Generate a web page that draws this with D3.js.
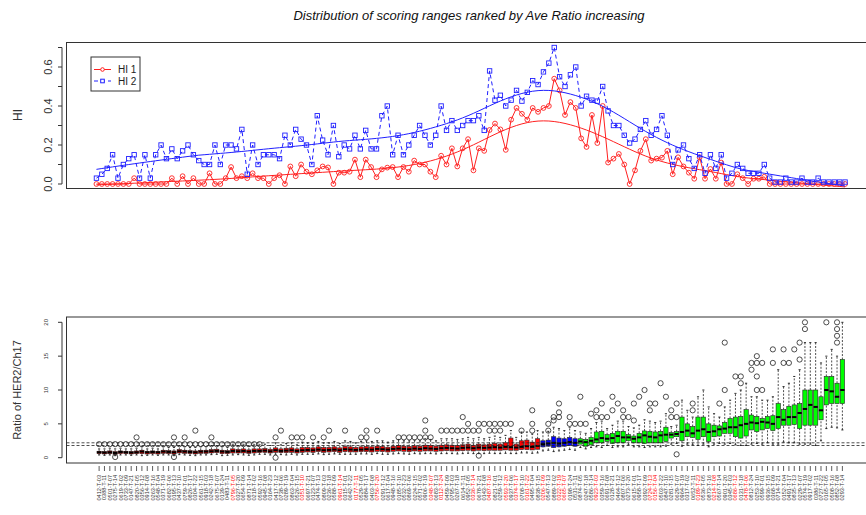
<!DOCTYPE html>
<html>
<head>
<meta charset="utf-8">
<script src="https://cdn.jsdelivr.net/npm/d3@7"></script>
<style>
  body { margin: 0; background: #fff; }
  svg { font-family: "Liberation Sans", Arial, sans-serif; }
</style>
</head>
<body>
<svg id="chart" width="866" height="515"></svg>
<script>
// ---- top panel: HI per case, ranked by average ratio ----
var hi1 = [0,0,0,0,0,0,0,0.03,0,0,
  0,0,0,0,0.03,0,0.04,0,0.03,0,
  0,0.055,0,0,0.03,0.087,0.03,0.04,0.03,0.055,
  0.03,0.03,0,0.03,0.045,0,0.09,0.04,0.10,0.063,
  0.05,0.07,0.09,0.085,0,0.058,0.058,0.063,0.125,0.035,
  0.125,0.087,0.035,0.075,0.084,0.087,0.035,0.087,0.063,0.12,
  0.10,0.10,0.063,0.035,0.145,0.10,0.183,0.09,0.183,0.23,
  0.07,0.183,0.17,0.277,0.31,0.28,0.175,0.33,0.39,0.36,
  0.33,0.39,0.37,0.39,0.40,0.54,0.48,0.354,0.42,0.39,
  0.234,0.19,0.354,0.21,0.40,0.11,0.13,0.154,0.10,0,
  0.07,0.17,0.23,0.12,0.13,0.135,0.17,0.05,0.137,0.09,
  0.058,0.027,0.137,0.027,0.077,0.027,0.11,0,0,0.05,
  0.03,0,0.027,0.027,0.037,0,0,0,0,0,
  0,0,0,0,0,0,0,0,0,0];

var hi2 = [0.03,0.05,0.08,0.15,0.03,0.10,0.13,0.15,0.03,0.15,
  0.03,0.15,0.20,0.13,0.18,0.13,0.17,0.20,0.15,0.12,
  0.10,0.10,0.20,0.10,0.20,0.20,0.18,0.28,0.05,0.20,
  0.10,0.15,0.15,0.15,0.13,0.25,0.20,0.28,0.23,0.20,
  0.10,0.35,0.225,0.15,0.30,0.14,0.20,0.18,0.25,0.18,
  0.275,0.18,0.18,0.35,0.40,0.15,0.25,0.15,0.20,0.25,
  0.30,0.25,0.20,0.25,0.40,0.275,0.325,0.275,0.30,0.325,
  0.325,0.35,0.275,0.58,0.43,0.455,0.40,0.43,0.48,0.425,
  0.47,0.53,0.51,0.575,0.62,0.70,0.55,0.50,0.56,0.60,
  0.40,0.45,0.43,0.425,0.50,0.375,0.30,0.30,0.25,0.21,
  0.23,0.28,0.325,0.25,0.28,0.35,0.25,0.10,0.175,0.20,
  0.13,0.08,0.15,0.055,0.15,0.08,0.15,0.03,0.055,0.10,
  0.08,0.055,0.055,0.055,0.10,0.03,0.01,0.01,0.03,0.01,
  0.01,0.03,0.01,0.01,0.03,0.01,0.01,0.01,0.01,0.01];

var hiTicks = [0, 0.1, 0.2, 0.3, 0.4, 0.5, 0.6, 0.7];
var hiLabels = [0, 0.2, 0.4, 0.6];

// ---- bottom panel: HER2/Ch17 ratio boxplots ----
var caseIds = ("0412-T-03 0388-T-11 0501-T-07 0275-T-14 0619-T-02 0733-T-09 0147-T-21 0820-T-05 0356-T-12 0914-T-08 " +
  "0263-T-16 0548-T-04 0371-T-19 0682-T-06 0195-T-13 0437-T-10 0759-T-01 0826-T-17 0304-T-22 0561-T-15 " +
  "0918-T-03 0242-T-18 0675-T-07 0139-T-24 0483-T-11 0796-T-05 0327-T-20 0654-T-09 0871-T-14 0218-T-02 " +
  "0592-T-16 0945-T-08 0164-T-23 0417-T-12 0738-T-06 0289-T-19 0863-T-04 0526-T-15 0351-T-10 0697-T-21 " +
  "0123-T-07 0474-T-13 0809-T-03 0236-T-18 0588-T-09 0961-T-14 0315-T-01 0642-T-22 0177-T-11 0529-T-05 " +
  "0884-T-17 0403-T-08 0756-T-20 0291-T-12 0617-T-04 0948-T-16 0185-T-10 0532-T-23 0869-T-06 0224-T-15 " +
  "0571-T-02 0906-T-19 0348-T-07 0683-T-13 0112-T-24 0459-T-09 0795-T-03 0267-T-18 0614-T-11 0952-T-05 " +
  "0336-T-14 0678-T-21 0143-T-08 0487-T-16 0821-T-01 0259-T-12 0593-T-20 0937-T-06 0374-T-17 0708-T-10 " +
  "0161-T-22 0495-T-04 0838-T-15 0206-T-09 0547-T-13 0889-T-02 0322-T-19 0665-T-07 0198-T-24 0531-T-11 " +
  "0874-T-05 0247-T-18 0586-T-14 0923-T-03 0359-T-16 0691-T-08 0128-T-21 0464-T-12 0807-T-06 0273-T-20 " +
  "0615-T-01 0958-T-17 0392-T-09 0724-T-13 0156-T-04 0503-T-22 0847-T-10 0281-T-15 0629-T-07 0964-T-19 " +
  "0317-T-02 0652-T-11 0189-T-23 0536-T-05 0873-T-16 0214-T-08 0567-T-14 0901-T-20 0345-T-03 0686-T-12 " +
  "0131-T-18 0478-T-06 0812-T-24 0253-T-10 0599-T-01 0936-T-15 0368-T-09 0714-T-21 0152-T-04 0491-T-17 " +
  "0835-T-13 0229-T-07 0574-T-19 0917-T-02 0386-T-11 0727-T-22 0165-T-05 0508-T-16 0852-T-08 0293-T-14").split(" ");

// cases whose axis label is printed in red
var redLabels = [25, 38, 45, 48, 52, 62, 64, 70, 73, 76, 78, 80, 83, 86, 87, 93, 103, 104, 112, 115, 119, 121];

// consecutive runs of cases per score group: red, blue, green
var groupSizes = [83, 7, 50];
var groupColors = ["#ff0000", "#0000ff", "#00ff00"];

var medians = [0.8,0.75,0.8,0.7,0.85,0.8,0.75,0.8,0.9,0.8,
  0.85,0.8,0.9,0.85,0.8,0.95,0.9,0.85,0.8,0.9,
  0.9,0.95,1.0,0.9,0.85,1.0,0.95,1.0,0.9,1.0,
  1.0,1.05,0.95,1.1,1.0,1.05,1.1,1.0,1.1,1.15,
  1.1,1.2,1.1,1.15,1.2,1.1,1.25,1.2,1.15,1.2,
  1.25,1.2,1.3,1.25,1.2,1.3,1.35,1.3,1.25,1.35,
  1.3,1.4,1.35,1.3,1.4,1.45,1.4,1.35,1.45,1.5,
  1.4,1.5,1.45,1.5,1.55,1.5,1.6,1.55,1.5,1.6,
  1.7,1.6,1.75,
  2.0,2.1,2.2,2.1,2.2,2.3,2.2,
  2.4,2.3,2.5,2.7,2.9,2.8,2.9,3.2,3.0,3.0,
  2.8,3.0,3.3,3.1,3.0,3.3,3.4,3.4,3.5,3.8,
  4.0,3.6,4.0,4.2,3.8,3.9,4.2,4.3,4.5,4.5,
  4.8,5.0,5.2,5.1,5.3,5.2,5.0,6.0,5.6,6.0,
  6.0,6.6,7.2,7.8,7.5,7.0,10.0,9.8,9.0,10.0];

var q1s = [0.6,0.55,0.6,0.5,0.6,0.6,0.55,0.6,0.6,0.55,
  0.6,0.55,0.65,0.6,0.55,0.7,0.65,0.6,0.55,0.65,
  0.65,0.7,0.75,0.6,0.6,0.7,0.7,0.7,0.65,0.7,
  0.75,0.8,0.7,0.8,0.75,0.75,0.8,0.7,0.8,0.85,
  0.8,0.9,0.8,0.85,0.9,0.8,0.9,0.85,0.85,0.9,
  0.9,0.85,0.95,0.9,0.85,0.95,1.0,0.95,0.9,1.0,
  0.95,1.0,1.0,0.95,1.0,1.05,1.0,1.0,1.05,1.1,
  1.0,1.1,1.05,1.1,1.1,1.1,1.15,1.1,1.1,1.2,
  1.2,1.15,1.25,
  1.6,1.7,1.5,1.6,1.7,1.8,1.7,
  2.0,1.7,1.9,2.2,2.2,2.4,2.1,2.2,2.2,2.5,
  2.2,2.2,2.1,2.2,2.2,2.2,2.4,2.9,3.1,2.5,
  3.1,3.0,2.7,3.1,2.4,3.1,3.2,3.6,3.6,3.1,
  2.9,3.2,4.1,3.85,4.1,4.3,4.0,4.3,4.8,4.8,
  4.9,4.3,4.8,4.8,4.8,5.6,7.8,8.0,8.0,8.0];

var q3s = [0.95,0.9,1.0,0.9,1.0,0.95,0.9,1.0,1.1,0.95,
  1.0,0.95,1.1,1.05,1.0,1.2,1.1,1.05,1.0,1.1,
  1.1,1.2,1.25,1.1,1.05,1.3,1.2,1.3,1.15,1.3,
  1.3,1.35,1.25,1.45,1.3,1.4,1.45,1.3,1.5,1.5,
  1.45,1.6,1.5,1.5,1.6,1.45,1.65,1.6,1.5,1.6,
  1.65,1.6,1.7,1.65,1.55,1.7,1.8,1.7,1.65,1.75,
  1.7,1.85,1.8,1.7,1.85,1.9,1.85,1.8,1.9,2.0,
  1.85,2.0,1.9,2.0,2.1,2.0,2.2,2.9,2.0,2.5,
  2.6,2.3,2.8,
  2.5,2.6,3.1,2.9,2.8,3.0,2.8,
  2.8,2.7,3.0,3.8,3.9,3.4,3.6,3.9,3.9,3.4,
  3.2,3.6,3.95,3.9,3.8,3.9,4.5,3.7,3.85,6.0,
  5.0,4.6,6.0,6.0,5.0,4.8,4.7,5.2,5.8,6.0,
  6.1,7.1,6.3,6.1,5.8,6.1,6.2,8.0,7.1,7.6,
  7.8,8.0,10.0,10.0,10.0,9.0,12.0,12.0,11.0,14.5];

var whiskLo = [0.4,0.35,0.4,0.3,0.4,0.4,0.35,0.4,0.3,0.35,
  0.4,0.35,0.4,0.4,0.3,0.45,0.4,0.35,0.3,0.4,
  0.4,0.45,0.5,0.3,0.35,0.4,0.45,0.4,0.35,0.4,
  0.5,0.5,0.4,0.5,0.45,0.4,0.5,0.4,0.5,0.5,
  0.5,0.55,0.45,0.5,0.55,0.5,0.5,0.5,0.5,0.55,
  0.55,0.5,0.6,0.5,0.5,0.55,0.6,0.55,0.5,0.6,
  0.55,0.6,0.6,0.55,0.6,0.6,0.6,0.55,0.6,0.65,
  0.6,0.6,0.6,0.65,0.6,0.6,0.65,0.6,0.6,0.7,
  0.7,0.65,0.7,
  1.0,1.1,0.9,1.0,1.1,1.2,1.1,
  1.5,1.3,1.5,1.6,1.5,1.8,1.5,1.6,1.6,1.9,
  1.6,1.6,1.5,1.6,1.6,1.6,1.7,2.0,2.1,1.7,
  2.0,1.9,1.8,2.0,1.6,2.0,2.1,2.0,2.1,1.9,
  1.8,1.8,2.0,2.1,2.0,2.2,2.0,2.0,2.3,2.2,
  2.2,2.0,2.0,2.0,1.8,2.5,4.3,4.5,4.4,4.1];

var whiskHi = [1.3,1.3,1.4,1.3,1.4,1.3,1.3,1.4,1.6,1.3,
  1.4,1.3,1.6,1.5,1.5,1.8,1.6,1.5,1.5,1.6,
  1.6,1.8,1.8,1.6,1.5,1.9,1.8,1.9,1.7,1.9,
  1.9,2.0,1.8,2.2,1.9,2.1,2.2,1.9,2.3,2.2,
  2.1,2.4,2.2,2.2,2.4,2.1,2.5,2.4,2.2,2.4,
  2.5,2.4,2.5,2.5,2.3,2.5,2.7,2.5,2.5,2.6,
  2.5,2.8,2.7,2.5,2.8,2.8,2.8,2.7,2.8,3.0,
  2.8,3.0,2.8,3.0,3.2,3.0,3.3,4.0,3.0,3.8,
  3.8,3.5,4.0,
  3.8,3.9,4.5,4.3,4.0,4.5,4.0,
  3.8,3.6,4.3,5.2,5.4,4.3,4.8,5.4,5.4,4.6,
  4.4,4.8,5.6,5.4,5.2,5.4,6.5,4.6,4.8,8.5,
  7.0,6.0,9.0,10.0,7.5,6.5,6.0,7.5,8.5,9.5,
  10.0,11.0,9.0,9.0,8.5,8.5,9.0,13.0,10.5,11.0,
  12.0,13.0,17.0,17.0,17.0,14.0,15.0,16.0,15.0,20.0];

// [case index, value]
var outliers = [
  [0,2],[1,2],[2,2],[3,2],[4,2],[5,2],[6,2],[7,2],[8,2],[9,2],[10,2],[11,2],[12,2],[13,2],[14,2],
  [15,2],[16,2],[17,2],[18,2],[19,2],[20,2],[21,2],[22,2],[23,2],[24,2],[25,2],[26,2],[27,2],[28,2],[29,2],[30,2],
  [7,3],[14,3],[16,3],[18,4],[21,3],[33,3],[34,4],[3,0.1],[14,0.1],[33,0],
  [36,3],[37,3],[38,3],[40,3],[42,3],[43,4],[46,4],[49,3],[50,3],[50,4],[52,4],
  [56,3],[57,3],[58,3],[59,3],[60,3],[61,3],[61,4],[61,5.5],[62,3],
  [64,4],[65,4],[66,4],[67,4],[68,4],[68,6],[69,4],[69,5],[70,4],[71,5],[71,4],[71,0.3],
  [72,5],[73,5],[73,4],[74,5],[74,4],[75,5],[75,4],[76,5],[77,5],[79,4],[81,7],[81,5],[81,4],
  [84,5],[84,4],[85,6],[85,5.5],[86,8],[86,6.7],[86,6],[88,6],[88,5],[89,5],
  [90,5],[90,9],[91,5],[92,6.5],[93,7],[93,6],[94,8],[94,6],[95,6],[96,9],[96,7],[97,8],[98,7],[98,6],
  [99,6],[100,8],[100,5.5],[101,9],[102,10],[103,8],[103,7],[104,8],[105,11],[106,9],[107,7],[107,6],
  [108,8],[108,6],[108,0.5],[111,8],[111,7],[116,8],[117,17],[117,10],[119,12],[120,12],[120,11],
  [122,14],[122,13],[123,15],[123,14],[123,12],[123,10],[124,14],[124,10],[126,16],[126,14],
  [128,16],[128,14],[129,14],[130,16],[131,17],[131,14.5],[132,20],[132,19],[136,20],
  [138,20],[138,19],[138,18],[138,17]];

var ratioTicks = [0, 5, 10, 15, 20];
var cutoffs = [1.8, 2.2];

// lowess smoother (local linear, tricube weights, optional robustness passes)
function lowess(x, y, f, iter) {
  var n = x.length, ns = Math.max(2, Math.min(n, Math.floor(f * n + 1e-7)));
  var rw = x.map(function() { return 1; }), fit = x.map(function() { return 0; });
  for (var it = 0; it <= iter; it++) {
    for (var i = 0; i < n; i++) {
      var d = x.map(function(v) { return Math.abs(v - x[i]); }).sort(function(a, b) { return a - b; });
      var h = Math.max(d[ns - 1], 1e-9);
      var sw = 0, sx = 0, sy = 0, sxx = 0, sxy = 0;
      for (var j = 0; j < n; j++) {
        var r = Math.abs(x[j] - x[i]), w = 0;
        if (r <= 0.999 * h) w = r <= 0.001 * h ? 1 : Math.pow(1 - Math.pow(r / h, 3), 3);
        w *= rw[j];
        sw += w; sx += w * x[j]; sy += w * y[j]; sxx += w * x[j] * x[j]; sxy += w * x[j] * y[j];
      }
      var mx = sx / sw, my = sy / sw, vx = sxx / sw - mx * mx;
      fit[i] = vx > 1e-12 ? my + (sxy / sw - mx * my) / vx * (x[i] - mx) : my;
    }
    if (it === iter) break;
    var res = y.map(function(v, k) { return v - fit[k]; });
    var cmad = 6 * d3.median(res.map(Math.abs));
    if (cmad < 1e-7) break;
    rw = res.map(function(v) {
      var a = Math.abs(v);
      return a <= 0.001 * cmad ? 1 : a > 0.999 * cmad ? 0 : Math.pow(1 - (a / cmad) * (a / cmad), 2);
    });
  }
  return fit;
}

var svg = d3.select("#chart");
var ink = "#333";

svg.append("text")
  .attr("x", 469).attr("y", 20)
  .attr("text-anchor", "middle")
  .style("font-size", "13px").style("font-style", "italic")
  .attr("fill", "#111")
  .text("Distribution of scoring ranges ranked by Ave Ratio increasing");

// ================= top panel =================
var topBox = {left: 66.5, right: 875, top: 42.5, bottom: 188.5};
var n = hi1.length;
var idx = d3.range(1, n + 1);
var padTop = 0.04 * (n - 1);
var xTop = d3.scaleLinear().domain([1 - padTop, n + padTop]).range([topBox.left, topBox.right]);
var yTop = d3.scaleLinear().domain([0, 0.7]).range([184, 47.5]);

svg.append("rect")
  .attr("x", topBox.left).attr("y", topBox.top)
  .attr("width", topBox.right - topBox.left).attr("height", topBox.bottom - topBox.top)
  .attr("fill", "none").attr("stroke", ink).attr("stroke-width", 1);

var gyTop = svg.append("g").attr("transform", "translate(62,0)");
gyTop.append("line")
  .attr("y1", yTop(0)).attr("y2", yTop(0.7))
  .attr("stroke", ink);
gyTop.selectAll("line.tick").data(hiTicks).enter().append("line")
  .attr("class", "tick")
  .attr("x1", 0).attr("x2", -4)
  .attr("y1", function(d) { return yTop(d); }).attr("y2", function(d) { return yTop(d); })
  .attr("stroke", ink);
gyTop.selectAll("text").data(hiLabels).enter().append("text")
  .attr("transform", function(d) { return "translate(-10," + yTop(d) + ") rotate(-90)"; })
  .attr("text-anchor", "middle")
  .style("font-size", "11px").attr("fill", ink)
  .text(function(d) { return d3.format(".1f")(d); });

svg.append("text")
  .attr("transform", "translate(22,115) rotate(-90)")
  .attr("text-anchor", "middle")
  .style("font-size", "12px").attr("fill", ink)
  .text("HI");

var series = [
  {values: hi1, color: "#ff2020", dash: null, shape: "circle"},
  {values: hi2, color: "#2020ff", dash: "4,3", shape: "square"}
];

series.forEach(function(s) {
  var pts = s.values.map(function(v, i) { return [xTop(idx[i]), yTop(v)]; });
  var smooth = lowess(idx, s.values, 0.28, 0);

  svg.append("path")
    .attr("d", d3.line()(pts))
    .attr("fill", "none").attr("stroke", s.color).attr("stroke-width", 1)
    .attr("stroke-dasharray", s.dash);

  svg.append("path")
    .attr("d", d3.line()(smooth.map(function(v, i) { return [xTop(idx[i]), yTop(v)]; })))
    .attr("fill", "none").attr("stroke", s.color).attr("stroke-width", 1);

  if (s.shape === "circle") {
    svg.append("g").selectAll("circle").data(pts).enter().append("circle")
      .attr("cx", function(d) { return d[0]; }).attr("cy", function(d) { return d[1]; })
      .attr("r", 2.4)
      .attr("fill", "none").attr("stroke", s.color).attr("stroke-width", 0.9);
  } else {
    svg.append("g").selectAll("rect").data(pts).enter().append("rect")
      .attr("x", function(d) { return d[0] - 2.2; }).attr("y", function(d) { return d[1] - 2.2; })
      .attr("width", 4.4).attr("height", 4.4)
      .attr("fill", "none").attr("stroke", s.color).attr("stroke-width", 0.9);
  }
});

// legend
var lg = svg.append("g").attr("transform", "translate(91,57)");
lg.append("rect").attr("width", 49).attr("height", 34)
  .attr("fill", "#fff").attr("stroke", ink);
[["HI 1", series[0]], ["HI 2", series[1]]].forEach(function(item, k) {
  var y = 12.5 + k * 11.5, s = item[1];
  lg.append("line").attr("x1", 3).attr("x2", 20).attr("y1", y).attr("y2", y)
    .attr("stroke", s.color).attr("stroke-dasharray", s.dash);
  if (s.shape === "circle") {
    lg.append("circle").attr("cx", 11.5).attr("cy", y).attr("r", 1.8)
      .attr("fill", "#fff").attr("stroke", s.color);
  } else {
    lg.append("rect").attr("x", 9.7).attr("y", y - 1.8).attr("width", 3.6).attr("height", 3.6)
      .attr("fill", "#fff").attr("stroke", s.color);
  }
  lg.append("text").attr("x", 27).attr("y", y + 3.5)
    .style("font-size", "10px").attr("fill", "#222")
    .text(item[0]);
});

// ================= bottom panel =================
var botBox = {left: 66.5, right: 875, top: 317, bottom: 463};
var m = medians.length;
var padBot = 0.04 * m;
var xBot = d3.scaleLinear().domain([0.5 - padBot, m + 0.5 + padBot]).range([botBox.left, botBox.right]);
var yBot = d3.scaleLinear().domain([0, 20]).range([457.7, 322.3]);
var bw = 0.8 * (xBot(2) - xBot(1));

var fills = [];
groupSizes.forEach(function(size, g) { for (var k = 0; k < size; k++) fills.push(groupColors[g]); });

svg.append("rect")
  .attr("x", botBox.left).attr("y", botBox.top)
  .attr("width", botBox.right - botBox.left).attr("height", botBox.bottom - botBox.top)
  .attr("fill", "none").attr("stroke", ink).attr("stroke-width", 1);

var gyBot = svg.append("g").attr("transform", "translate(62,0)");
gyBot.append("line").attr("y1", yBot(0)).attr("y2", yBot(20)).attr("stroke", ink);
gyBot.selectAll("line.tick").data(ratioTicks).enter().append("line")
  .attr("class", "tick")
  .attr("x1", 0).attr("x2", -4)
  .attr("y1", function(d) { return yBot(d); }).attr("y2", function(d) { return yBot(d); })
  .attr("stroke", ink);
gyBot.selectAll("text").data(ratioTicks).enter().append("text")
  .attr("transform", function(d) { return "translate(-14," + yBot(d) + ") rotate(-90)"; })
  .attr("text-anchor", "middle")
  .style("font-size", "6px").attr("fill", ink)
  .text(function(d) { return d; });

svg.append("text")
  .attr("transform", "translate(21,390) rotate(-90)")
  .attr("text-anchor", "middle")
  .style("font-size", "11px").attr("fill", ink)
  .text("Ratio of HER2/Ch17");

var boxes = svg.append("g");
medians.forEach(function(med, i) {
  var cx = xBot(i + 1), g = boxes.append("g");
  g.append("line").attr("x1", cx).attr("x2", cx).attr("y1", yBot(whiskLo[i])).attr("y2", yBot(q1s[i]))
    .attr("stroke", "#000").attr("stroke-width", 0.7).attr("stroke-dasharray", "2,1.5");
  g.append("line").attr("x1", cx).attr("x2", cx).attr("y1", yBot(q3s[i])).attr("y2", yBot(whiskHi[i]))
    .attr("stroke", "#000").attr("stroke-width", 0.7).attr("stroke-dasharray", "2,1.5");
  [whiskLo[i], whiskHi[i]].forEach(function(v) {
    g.append("line").attr("x1", cx - bw / 4).attr("x2", cx + bw / 4).attr("y1", yBot(v)).attr("y2", yBot(v))
      .attr("stroke", "#000").attr("stroke-width", 0.8);
  });
  g.append("rect")
    .attr("x", cx - bw / 2).attr("y", yBot(q3s[i]))
    .attr("width", bw).attr("height", Math.max(0.5, yBot(q1s[i]) - yBot(q3s[i])))
    .attr("fill", fills[i]).attr("stroke", "#222").attr("stroke-width", 0.6);
  g.append("line").attr("x1", cx - bw / 2).attr("x2", cx + bw / 2).attr("y1", yBot(med)).attr("y2", yBot(med))
    .attr("stroke", "#000").attr("stroke-width", 2);
});

svg.append("g").selectAll("circle").data(outliers).enter().append("circle")
  .attr("cx", function(d) { return xBot(d[0] + 1); })
  .attr("cy", function(d) { return yBot(d[1]); })
  .attr("r", 2.6)
  .attr("fill", "none").attr("stroke", "#222").attr("stroke-width", 0.8);

svg.append("g").selectAll("line").data(cutoffs).enter().append("line")
  .attr("x1", botBox.left).attr("x2", botBox.right)
  .attr("y1", function(d) { return yBot(d); }).attr("y2", function(d) { return yBot(d); })
  .attr("stroke", "#222").attr("stroke-width", 0.8).attr("stroke-dasharray", "3,2");

// x axis ticks and rotated case labels
var gx = svg.append("g");
gx.selectAll("line").data(caseIds).enter().append("line")
  .attr("x1", function(d, i) { return xBot(i + 1); }).attr("x2", function(d, i) { return xBot(i + 1); })
  .attr("y1", 466).attr("y2", 471)
  .attr("stroke", ink).attr("stroke-width", 0.8);
gx.selectAll("text").data(caseIds).enter().append("text")
  .attr("transform", function(d, i) { return "translate(" + (xBot(i + 1) + 2) + ",475) rotate(-90)"; })
  .attr("text-anchor", "end")
  .style("font-size", "5.6px")
  .attr("fill", function(d, i) { return redLabels.indexOf(i) >= 0 ? "#ff0000" : "#333"; })
  .text(function(d) { return d; });
</script>
</body>
</html>
